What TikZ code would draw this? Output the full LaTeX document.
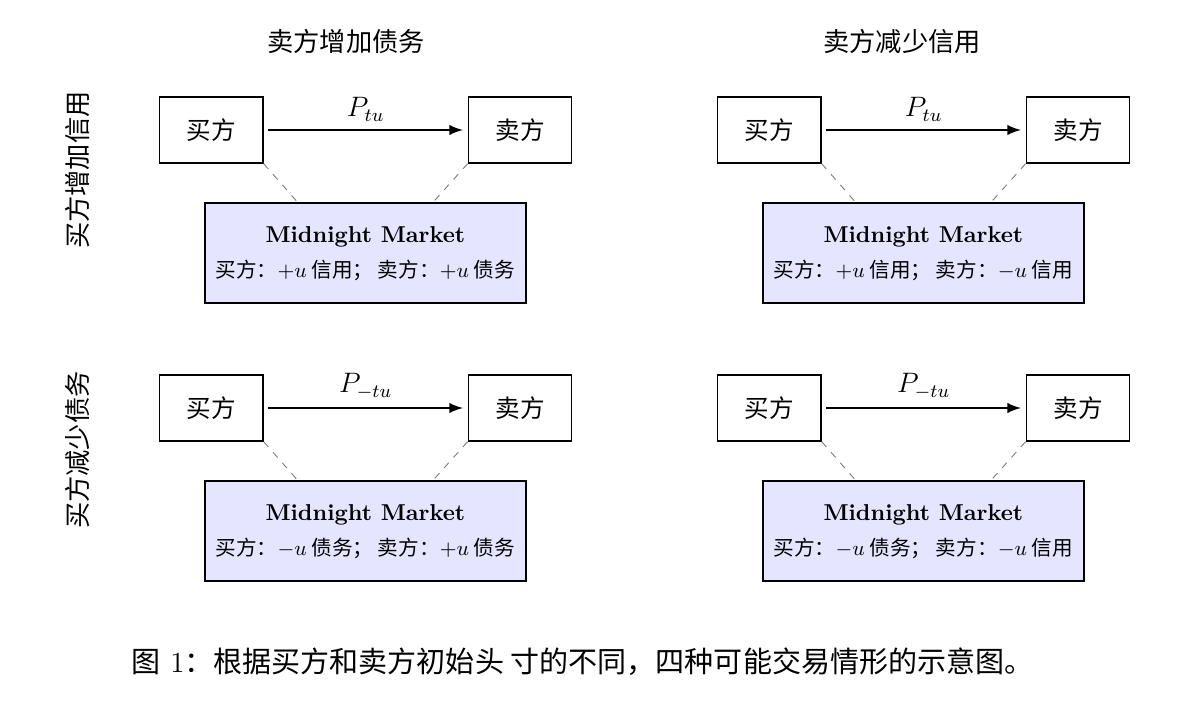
\documentclass[tikz,border=0pt]{standalone}
\usepackage{amsmath}
\usepackage{amssymb}
\usepackage{fontspec}
\newfontfamily\cjk{Noto Sans CJK SC}
\usepackage{tikz}
\newcommand{\mkttitle}{\fontsize{9.8}{12}\selectfont\bfseries Midnight Market}
\newcommand{\mktline}{\fontsize{8.8}{10}\selectfont\cjk}

\begin{document}
\begin{tikzpicture}
% Define common styles
\tikzset{
    party/.style={draw, semithick, minimum width=1.55cm, minimum height=0.99cm, font=\fontsize{10.5}{12}\selectfont\cjk},
    market/.style={draw, thick, minimum width=4.82cm, minimum height=1.5cm, fill=blue!10, align=center},
    arrow/.style={->, >=latex, line width=1pt, shorten <=2pt, shorten >=2pt},
    link/.style={dashed, gray, thin},
    title/.style={font=\fontsize{11.2}{13}\selectfont\cjk},
    price/.style={above, font=\fontsize{12}{14}\selectfont}
}
\useasboundingbox (0,0) rectangle (17.97,-10.68);

% Column and row headings
\node[title] (col1) at (5.19,-0.62) {卖方增加债务};
\node[title] (col2) at (13.53,-0.62) {卖方减少信用};
\node[title, rotate=90] (row1) at (1.17,-2.55) {买方增加信用};
\node[title, rotate=90] (row2) at (1.17,-6.75) {买方减少债务};

% Top left: buyer adds credit, seller adds debt
\node[party] (b1) at (3.17,-1.95) {买方};
\node[party] (s1) at (7.80,-1.95) {卖方};
\node[market] (m1) at (5.48,-3.8) {{\mkttitle}\\[3pt]
  {\mktline 买方：$+u$ 信用； 卖方：$+u$ 债务}};
\draw[arrow] (b1) -- node[price] {$P_{tu}$} (s1);
\draw[link] (b1.south east) -- (m1.143);
\draw[link] (s1.south west) -- (m1.37);

% Top right: buyer adds credit, seller cuts credit
\node[party] (b2) at (11.54,-1.95) {买方};
\node[party] (s2) at (16.17,-1.95) {卖方};
\node[market] (m2) at (13.85,-3.8) {{\mkttitle}\\[3pt]
  {\mktline 买方：$+u$ 信用； 卖方：$-u$ 信用}};
\draw[arrow] (b2) -- node[price] {$P_{tu}$} (s2);
\draw[link] (b2.south east) -- (m2.143);
\draw[link] (s2.south west) -- (m2.37);

% Bottom left: buyer cuts debt, seller adds debt
\node[party] (b3) at (3.17,-6.12) {买方};
\node[party] (s3) at (7.80,-6.12) {卖方};
\node[market] (m3) at (5.48,-7.97) {{\mkttitle}\\[3pt]
  {\mktline 买方：$-u$ 债务； 卖方：$+u$ 债务}};
\draw[arrow] (b3) -- node[price] {$P_{-tu}$} (s3);
\draw[link] (b3.south east) -- (m3.143);
\draw[link] (s3.south west) -- (m3.37);

% Bottom right: buyer cuts debt, seller cuts credit
\node[party] (b4) at (11.54,-6.12) {买方};
\node[party] (s4) at (16.17,-6.12) {卖方};
\node[market] (m4) at (13.85,-7.97) {{\mkttitle}\\[3pt]
  {\mktline 买方：$-u$ 债务； 卖方：$-u$ 信用}};
\draw[arrow] (b4) -- node[price] {$P_{-tu}$} (s4);
\draw[link] (b4.south east) -- (m4.143);
\draw[link] (s4.south west) -- (m4.37);

% Caption
\node[font=\fontsize{12.4}{14}\selectfont] (caption) at (8.74,-9.93) {{\cjk 图} 1{\cjk ：根据买方和卖方初始头 寸的不同，四种可能交易情形的示意图。}};

\end{tikzpicture}
\end{document}
